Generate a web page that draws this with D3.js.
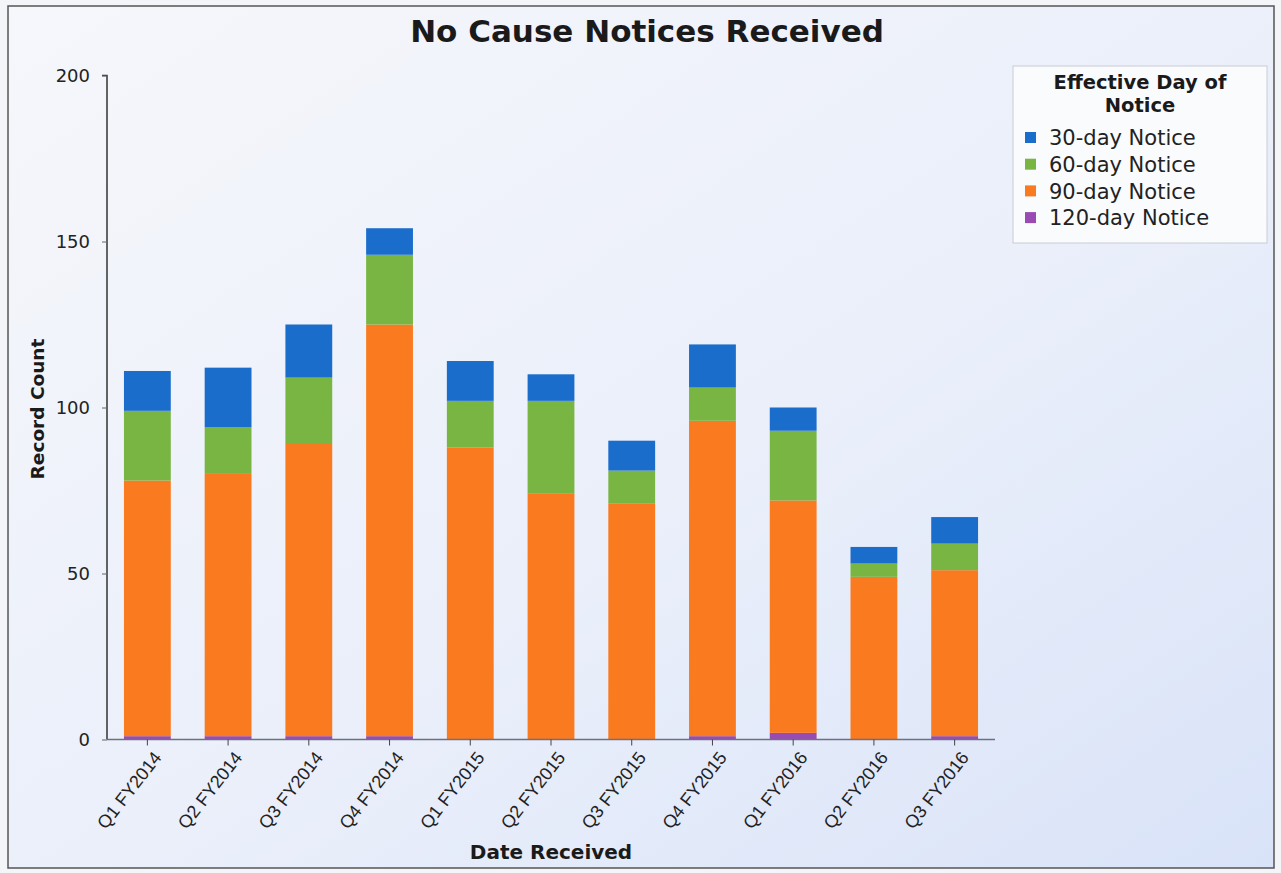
<!DOCTYPE html>
<html>
<head>
<meta charset="utf-8">
<script src="https://cdn.jsdelivr.net/npm/d3@7"></script>
<style>
  body { margin: 0; background: #fff; }
  svg { display: block; font-family: "DejaVu Sans", "Liberation Sans", Arial, sans-serif; }
</style>
</head>
<body>
<svg id="chart" width="1281" height="873"></svg>
<script>
// quarters and counts per notice type
const quarters = ["Q1 FY2014", "Q2 FY2014", "Q3 FY2014", "Q4 FY2014", "Q1 FY2015", "Q2 FY2015",
                  "Q3 FY2015", "Q4 FY2015", "Q1 FY2016", "Q2 FY2016", "Q3 FY2016"];
const notice120 = [1, 1, 1, 1, 0, 0, 0, 1, 2, 0, 1];
const notice90  = [77, 79, 88, 124, 88, 74, 71, 95, 70, 49, 50];
const notice60  = [21, 14, 20, 21, 14, 28, 10, 10, 21, 4, 8];
const notice30  = [12, 18, 16, 8, 12, 8, 9, 13, 7, 5, 8];
const seriesNames = ["120-day Notice", "90-day Notice", "60-day Notice", "30-day Notice"];
const legendOrder = ["30-day Notice", "60-day Notice", "90-day Notice", "120-day Notice"];
const yTicks = [0, 50, 100, 150, 200];

const colors = {
  "30-day Notice": "#1b6dcc",
  "60-day Notice": "#79b543",
  "90-day Notice": "#fa7a20",
  "120-day Notice": "#9a4bb3"
};

var rows = quarters.map(function(q, i) {
  return {q: q, "120-day Notice": notice120[i], "90-day Notice": notice90[i],
          "60-day Notice": notice60[i], "30-day Notice": notice30[i]};
});

var svg = d3.select("#chart");

// background
var defs = svg.append("defs");
var grad = defs.append("linearGradient").attr("id", "bg")
  .attr("x1", "0").attr("y1", "0").attr("x2", "1").attr("y2", "1");
grad.append("stop").attr("offset", "0%").attr("stop-color", "#f6f7fb");
grad.append("stop").attr("offset", "55%").attr("stop-color", "#eaeffa");
grad.append("stop").attr("offset", "100%").attr("stop-color", "#d9e3f8");

svg.append("rect").attr("x", 0).attr("y", 0).attr("width", 1281).attr("height", 873).attr("fill", "#f4f5f8");
svg.append("rect").attr("x", 8).attr("y", 6).attr("width", 1266).attr("height", 862)
   .attr("fill", "url(#bg)").attr("stroke", "#555").attr("stroke-width", 1.5);

var margin = {left: 107, right: 995, top: 75.5, bottom: 739.5};

var x = d3.scaleBand()
  .domain(quarters)
  .range([margin.left, margin.right])
  .paddingInner(0.42)
  .paddingOuter(0.21);

var y = d3.scaleLinear()
  .domain([0, 200])
  .range([margin.bottom, margin.top]);

var stack = d3.stack().keys(seriesNames);
var layers = stack(rows);

svg.append("g").selectAll("g")
  .data(layers)
  .enter().append("g")
  .attr("fill", function(d) { return colors[d.key]; })
  .selectAll("rect")
  .data(function(d) { return d; })
  .enter().append("rect")
  .attr("x", function(d) { return x(d.data.q); })
  .attr("y", function(d) { return y(d[1]); })
  .attr("width", x.bandwidth())
  .attr("height", function(d) { return y(d[0]) - y(d[1]); });

// y axis
var yAxis = d3.axisLeft(y).tickValues(yTicks).tickSize(5).tickPadding(12);
var gy = svg.append("g").attr("transform", "translate(" + margin.left + ",0)").call(yAxis);
gy.select(".domain").attr("stroke", "#333").attr("stroke-width", 1.5).attr("d", "M-5," + margin.top + "H0V" + margin.bottom);
gy.selectAll(".tick line").attr("stroke", "#666");
gy.selectAll("text").attr("font-size", 18).attr("fill", "#222").attr("font-family", "DejaVu Sans");

// x axis
var xAxis = d3.axisBottom(x).tickSize(6).tickPadding(6);
var gx = svg.append("g").attr("transform", "translate(0," + margin.bottom + ")").call(xAxis);
gx.select(".domain").attr("stroke", "#6b7185").attr("stroke-width", 1.5).attr("d", "M" + margin.left + ",0H" + margin.right);
gx.selectAll(".tick line").attr("stroke", "#444");
gx.selectAll("text")
  .attr("font-size", 18).attr("fill", "#222").attr("font-family", "Liberation Sans, Arial, sans-serif")
  .attr("text-anchor", "end")
  .attr("transform", "translate(12,12) rotate(-52)")
  .attr("dy", "0.35em").attr("y", 0).attr("x", -3);

// titles
svg.append("text").attr("x", 647).attr("y", 42).attr("text-anchor", "middle")
  .attr("font-size", 31).attr("font-weight", "bold").attr("fill", "#1a1a1a")
  .text("No Cause Notices Received");

svg.append("text").attr("transform", "translate(44,409) rotate(-90)").attr("text-anchor", "middle")
  .attr("font-size", 18.5).attr("font-weight", "bold").attr("fill", "#1a1a1a")
  .text("Record Count");

svg.append("text").attr("x", 551).attr("y", 859).attr("text-anchor", "middle")
  .attr("font-size", 20).attr("font-weight", "bold").attr("fill", "#1a1a1a")
  .text("Date Received");

// legend
var lg = svg.append("g").attr("transform", "translate(1013,66)");
lg.append("rect").attr("width", 254).attr("height", 177)
  .attr("fill", "#fafbfd").attr("stroke", "#c9ccd4");
lg.append("text").attr("x", 127).attr("y", 23).attr("text-anchor", "middle")
  .attr("font-size", 19.5).attr("font-weight", "bold").attr("fill", "#1a1a1a").text("Effective Day of");
lg.append("text").attr("x", 127).attr("y", 46).attr("text-anchor", "middle")
  .attr("font-size", 19.5).attr("font-weight", "bold").attr("fill", "#1a1a1a").text("Notice");

var item = lg.selectAll(".item")
  .data(legendOrder)
  .enter().append("g")
  .attr("class", "item")
  .attr("transform", function(d, i) { return "translate(12," + (72 + i * 26.7) + ")"; });
item.append("rect").attr("x", 0).attr("y", -6).attr("width", 11).attr("height", 11)
  .attr("fill", function(d) { return colors[d]; });
item.append("text").attr("x", 24).attr("y", 0).attr("dy", "0.35em")
  .attr("font-size", 21).attr("fill", "#222").text(function(d) { return d; });
</script>
</body>
</html>
